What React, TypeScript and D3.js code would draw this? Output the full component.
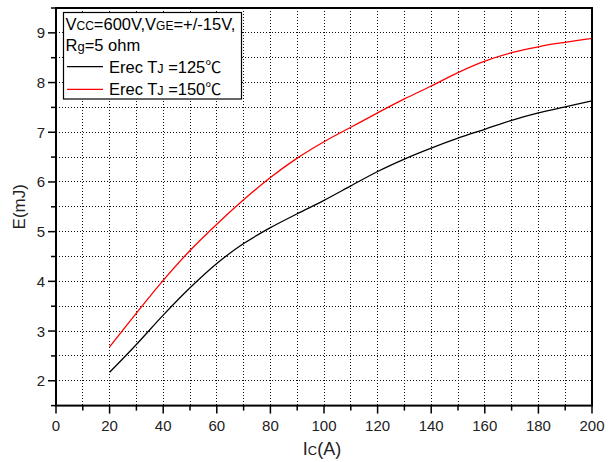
import React from "react";
import * as d3 from "d3";

const ic = [20, 30, 40, 50, 60, 70, 80, 90, 100, 110, 120, 130, 140, 150, 160, 170, 180, 190, 200];
const erec125 = [2.17, 2.73, 3.32, 3.87, 4.36, 4.76, 5.08, 5.36, 5.63, 5.92, 6.21, 6.46, 6.68, 6.88, 7.06, 7.24, 7.39, 7.51, 7.63];
const erec150 = [2.68, 3.36, 4.02, 4.62, 5.15, 5.64, 6.09, 6.48, 6.81, 7.1, 7.39, 7.67, 7.93, 8.2, 8.43, 8.6, 8.72, 8.81, 8.89];
const xTicks = [0, 20, 40, 60, 80, 100, 120, 140, 160, 180, 200];
const yTicks = [2, 3, 4, 5, 6, 7, 8, 9];

const W = 613, H = 462;
const L = 56, R = 592, T = 8, B = 405.6;

export default function App() {
  const x = d3.scaleLinear().domain([0, 200]).range([L, R]);
  const y = d3.scaleLinear().domain([1.5, 9.5]).range([B, T]);
  const line = d3.line<number>().x((_, i) => x(ic[i])).y((d) => y(d)).curve(d3.curveCatmullRom.alpha(0.5));
  const xGrid = d3.range(10, 200, 10);
  const yGrid = d3.range(2, 9.5, 0.5);
  const font = "Liberation Sans, Arial, sans-serif";
  const cjk = "Noto Sans CJK SC";
  return (
    <svg width={W} height={H} style={{ position: "absolute", left: 0, top: 0, background: "#fff" }} fontFamily={font}>
      <g shapeRendering="crispEdges">
        {xGrid.map((v) => (
          <line key={"gx" + v} x1={x(v)} x2={x(v)} y1={T} y2={B} stroke="#111" strokeWidth={1} strokeDasharray="1,2" />
        ))}
        {yGrid.map((v) => (
          <line key={"gy" + v} x1={L} x2={R} y1={y(v)} y2={y(v)} stroke="#111" strokeWidth={1} strokeDasharray="1,2" />
        ))}
      </g>
      <path d={line(erec125) || ""} fill="none" stroke="#000" strokeWidth={1.3} />
      <path d={line(erec150) || ""} fill="none" stroke="#ff0000" strokeWidth={1.3} />
      <rect x={L} y={T} width={R - L} height={B - T} fill="none" stroke="#000" strokeWidth={2} />
      {d3.range(0, 201, 10).map((v) => (
        <line key={"xt" + v} x1={x(v)} x2={x(v)} y1={B} y2={B + (v % 20 === 0 ? 8 : 5)} stroke="#000" strokeWidth={1.5} />
      ))}
      {d3.range(1.5, 9.51, 0.5).map((v) => (
        <line key={"yt" + v} x1={L - (Number.isInteger(v) ? 8 : 5)} x2={L} y1={y(v)} y2={y(v)} stroke="#000" strokeWidth={1.5} />
      ))}
      {xTicks.map((v) => (
        <text key={"xl" + v} x={x(v)} y={431} textAnchor="middle" fontSize={15} fill="#222">{v}</text>
      ))}
      {yTicks.map((v) => (
        <text key={"yl" + v} x={45} y={y(v) + 5.5} textAnchor="end" fontSize={15} fill="#222">{v}</text>
      ))}
      <text x={322} y={455} textAnchor="middle" fontSize={18} fill="#222">
        I<tspan fontSize={13}>C</tspan>(A)
      </text>
      <text transform={`translate(25,${(T + B) / 2}) rotate(-90)`} textAnchor="middle" fontSize={17} fill="#222">E(mJ)</text>
      <rect x={63.5} y={12.5} width={178} height={86.5} fill="#fff" stroke="#000" strokeWidth={1.2} />
      <text x={65.5} y={30} fontSize={16.5} fill="#000">
        V<tspan fontSize={12}>CC</tspan>=600V,V<tspan fontSize={12}>GE</tspan>=+/-15V,
      </text>
      <text x={65.5} y={51} fontSize={16.5} fill="#000">
        R<tspan fontSize={13}>g</tspan>=5 ohm
      </text>
      <line x1={67} x2={103} y1={66.7} y2={66.7} stroke="#000" strokeWidth={1.2} />
      <text x={109} y={73} fontSize={16.5} fill="#000">
        Erec T<tspan fontSize={12.5}>J</tspan> =125<tspan fontFamily={cjk} fontSize={16}>℃</tspan>
      </text>
      <line x1={67} x2={103} y1={89.3} y2={89.3} stroke="#ff0000" strokeWidth={1.2} />
      <text x={109} y={95} fontSize={16.5} fill="#000">
        Erec T<tspan fontSize={12.5}>J</tspan> =150<tspan fontFamily={cjk} fontSize={16}>℃</tspan>
      </text>
    </svg>
  );
}
